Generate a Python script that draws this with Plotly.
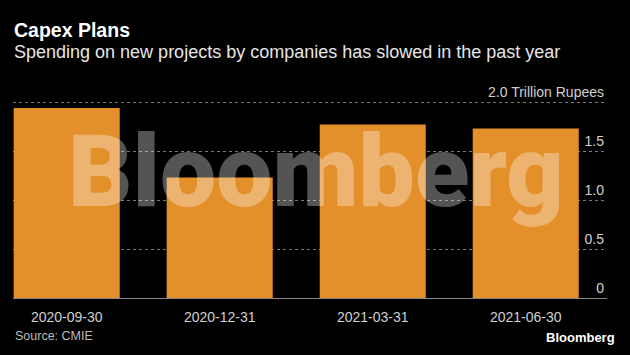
import plotly.graph_objects as go

categories = ["2020-09-30", "2020-12-31", "2021-03-31", "2021-06-30"]
capex = [1.94, 1.23, 1.77, 1.73]
y_ticks = [0, 0.5, 1.0, 1.5, 2.0]
y_tick_labels = ["0", "0.5", "1.0", "1.5", "2.0 Trillion Rupees"]

title = "Capex Plans"
subtitle = "Spending on new projects by companies has slowed in the past year"
source = "Source: CMIE"

W, H = 630, 355
ML, MR, MT, MB = 13, 23, 80, 57
PW, PH = W - ML - MR, H - MT - MB
PX_PER_UNIT = 98.0


def px(x):
    return (x - ML) / PW


def py(y):
    return (H - MB - y) / PH


BASE = "Liberation Sans"

fig = go.Figure(
    go.Bar(
        x=list(range(len(categories))),
        y=capex,
        marker=dict(color="#e38f2a", line=dict(width=0)),
        hoverinfo="skip",
    )
)

fig.update_layout(
    width=W,
    height=H,
    margin=dict(l=ML, r=MR, t=MT, b=MB),
    paper_bgcolor="#000000",
    plot_bgcolor="#000000",
    bargap=0.307,
    showlegend=False,
    font=dict(family=BASE, color="#cccccc", size=14),
    xaxis=dict(
        tickmode="array",
        tickvals=list(range(len(categories))),
        ticktext=categories,
        range=[-0.351, 3.531],
        showgrid=False,
        zeroline=False,
        showline=True,
        linecolor="#8a8a8a",
        linewidth=1,
        ticks="",
        ticklabelstandoff=6,
        tickfont=dict(family=BASE, size=14, color="#d0d0d0"),
        fixedrange=True,
    ),
    yaxis=dict(
        side="right",
        range=[0, PH / PX_PER_UNIT],
        tickmode="array",
        tickvals=y_ticks,
        ticktext=y_tick_labels,
        ticklabelposition="inside top",
        ticklabeloverflow="allow",
        ticks="",
        showgrid=True,
        gridcolor="#7a7a7a",
        griddash="dot",
        gridwidth=1,
        zeroline=False,
        showline=False,
        tickfont=dict(family=BASE, size=14, color="#d0d0d0"),
        fixedrange=True,
    ),
)

annotations = [
    dict(text="Bloomberg", x=px(316), y=py(171), xanchor="center", yanchor="middle",
         font=dict(family="Roboto", size=100, color="rgba(255,255,255,0.33)", weight=900)),
    dict(text="<b>" + title + "</b>", x=px(12), y=py(30), xanchor="left", yanchor="middle",
         font=dict(family=BASE, size=19.5, color="#ffffff")),
    dict(text=subtitle, x=px(12), y=py(52), xanchor="left", yanchor="middle",
         font=dict(family=BASE, size=18, color="#e6e6e6")),
    dict(text=source, x=px(13), y=py(336), xanchor="left", yanchor="middle",
         font=dict(family=BASE, size=12.5, color="#bbbbbb")),
    dict(text="<b>Bloomberg</b>", x=px(617), y=py(337), xanchor="right", yanchor="middle",
         font=dict(family=BASE, size=13, color="#ffffff")),
]
for a in annotations:
    a.update(xref="paper", yref="paper", showarrow=False)
fig.update_layout(annotations=annotations)

fig.write_html(
    "out.html",
    config={"displayModeBar": False},
    post_script="document.body.style.margin='0';document.body.style.background='#000';",
)
